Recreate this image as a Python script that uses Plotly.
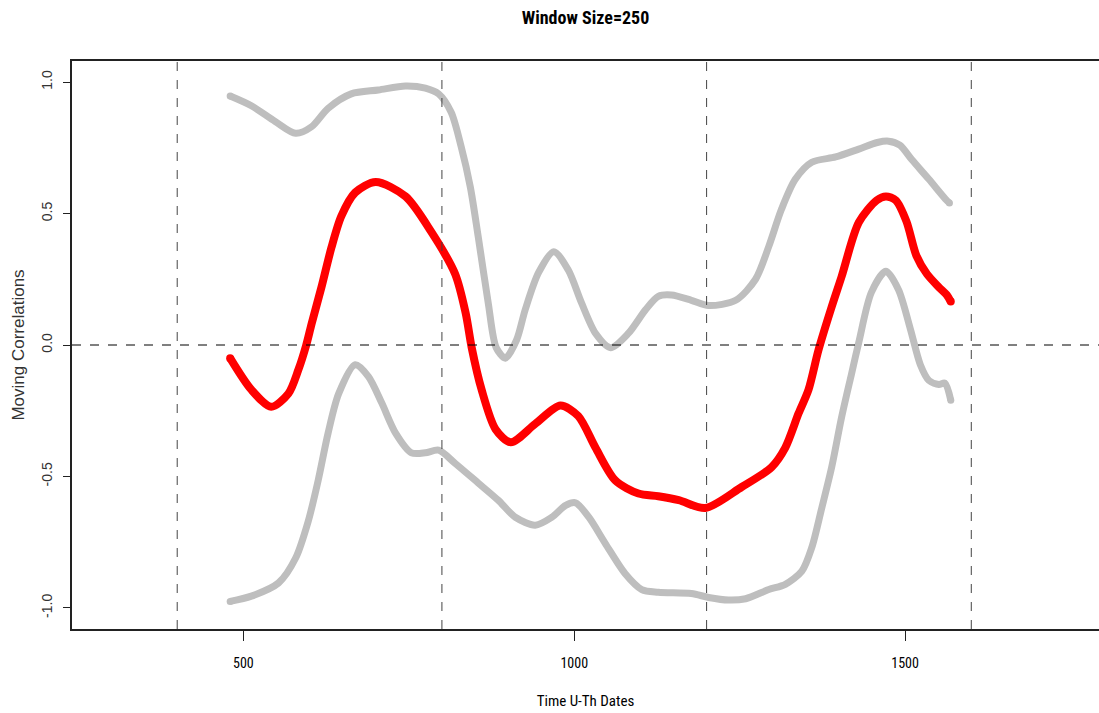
import plotly.graph_objects as go

# Moving correlation (window size 250) against U-Th dates
mid_x = [480, 512, 542, 568, 583, 595, 603, 618, 633, 648, 669, 700, 745, 784,
         820, 836, 845, 860, 881, 904, 941, 979, 1006, 1032, 1062, 1097,
         1127, 1158, 1198, 1253, 1298, 1319, 1339, 1354, 1369, 1389, 1404, 1430,
         1457, 1471, 1486, 1502, 1517, 1533, 1551, 1563, 1569]
mid_y = [-0.05, -0.17, -0.235, -0.185, -0.095, 0.0, 0.08, 0.22, 0.37, 0.49, 0.58,
         0.62, 0.565, 0.43, 0.27, 0.12, -0.01, -0.17, -0.32, -0.37, -0.30,
         -0.23, -0.27, -0.39, -0.515, -0.565, -0.575, -0.59, -0.62, -0.54, -0.465,
         -0.39, -0.26, -0.17, -0.02, 0.145, 0.26, 0.466, 0.55, 0.565, 0.55, 0.47,
         0.34, 0.27, 0.22, 0.19, 0.165]

# Upper confidence bound
up_x = [480, 512, 548, 579, 603, 628, 663, 704, 745, 775, 795, 814, 829, 843,
        855, 870, 882, 896, 913, 926, 946, 969, 991, 1011, 1032, 1055, 1082, 1108,
        1127, 1147, 1177, 1203, 1244, 1274, 1294, 1313, 1334, 1359, 1395, 1430,
        1458, 1475, 1492, 1510, 1536, 1561, 1567]
up_y = [0.947, 0.91, 0.85, 0.805, 0.83, 0.90, 0.955, 0.97, 0.985, 0.977, 0.955,
        0.885, 0.755, 0.60, 0.41, 0.16, -0.01, -0.05, 0.02, 0.135, 0.275, 0.355,
        0.285, 0.16, 0.045, -0.01, 0.045, 0.135, 0.185, 0.19, 0.17, 0.15, 0.17,
        0.25, 0.375, 0.515, 0.63, 0.695, 0.715, 0.745, 0.77, 0.775, 0.76,
        0.705, 0.63, 0.555, 0.54]

# Lower confidence bound
lo_x = [480, 512, 553, 579, 598, 613, 628, 644, 669, 689, 709, 730, 754, 775,
        795, 820, 855, 885, 911, 941, 966, 987, 1002, 1022, 1047, 1077, 1102,
        1127, 1177, 1203, 1233, 1259, 1294, 1319, 1344, 1359, 1374, 1389, 1404,
        1419, 1430, 1449, 1471, 1490, 1508, 1523, 1536, 1551, 1560, 1569]
lo_y = [-0.975, -0.955, -0.905, -0.81, -0.67, -0.515, -0.335, -0.185, -0.075,
        -0.12, -0.22, -0.335, -0.41, -0.41, -0.40, -0.45, -0.525, -0.59, -0.655,
        -0.685, -0.655, -0.61, -0.60, -0.655, -0.755, -0.87, -0.93, -0.94,
        -0.945, -0.96, -0.97, -0.965, -0.93, -0.91, -0.86, -0.77, -0.62, -0.465,
        -0.275, -0.11, 0.01, 0.20, 0.28, 0.21, 0.06, -0.075, -0.135, -0.15,
        -0.145, -0.21]

breaks = [400, 800, 1200, 1600]
x_ticks = [500, 1000, 1500]
y_ticks = [-1.0, -0.5, 0.0, 0.5, 1.0]

GRAY = "#BEBEBE"
RED = "#FF0000"
NARROW = "Liberation Sans Narrow, Arial Narrow, Roboto Condensed, Liberation Sans, Arial, sans-serif"
SANS = "Liberation Sans, Arial, sans-serif"

fig = go.Figure()


def band(xs, ys, color, width, end_size):
    fig.add_trace(go.Scatter(
        x=xs, y=ys, mode="lines",
        line=dict(color=color, width=width, shape="spline", smoothing=0.8),
        hoverinfo="skip", showlegend=False))
    fig.add_trace(go.Scatter(
        x=[xs[0], xs[-1]], y=[ys[0], ys[-1]], mode="markers",
        marker=dict(color=color, size=end_size, line=dict(width=0)),
        hoverinfo="skip", showlegend=False))


band(up_x, up_y, GRAY, 7, 7)
band(lo_x, lo_y, GRAY, 7, 7)
band(mid_x, mid_y, RED, 8, 8)

# Period boundaries and zero reference
for b in breaks:
    fig.add_shape(type="line", xref="x", yref="paper", x0=b, x1=b, y0=0, y1=1,
                  line=dict(color="#444444", width=1, dash="dash"), layer="above")
fig.add_shape(type="line", xref="paper", yref="y", x0=0, x1=1, y0=0, y1=0,
              line=dict(color="#000000", width=1, dash="dash"), layer="above")

fig.update_layout(
    width=1099, height=713,
    margin=dict(l=72, r=0, t=61, b=84),
    paper_bgcolor="white", plot_bgcolor="white",
    title=dict(text="<b>Window Size=250</b>", x=0.5, xref="paper", xanchor="center",
               y=0.975, yref="container", yanchor="middle",
               font=dict(family=NARROW, size=18, color="#000000")),
    xaxis=dict(
        range=[241, 1793], tickmode="array", tickvals=x_ticks,
        ticktext=[str(v) for v in x_ticks],
        showgrid=False, zeroline=False,
        showline=True, linecolor="#222222", linewidth=1.5, mirror=True,
        ticks="outside", ticklen=10, tickwidth=1, tickcolor="#222222",
        ticklabelstandoff=10,
        tickfont=dict(family=NARROW, size=14, color="#000000"),
        title=dict(text="Time U-Th Dates", standoff=26,
                   font=dict(family=NARROW, size=15, color="#000000")),
    ),
    yaxis=dict(
        range=[-1.08, 1.08], tickmode="array", tickvals=y_ticks,
        ticktext=["-1.0", "-0.5", "0.0", "0.5", "1.0"],
        showgrid=False, zeroline=False,
        showline=True, linecolor="#222222", linewidth=1.5, mirror=False,
        ticks="outside", ticklen=7, tickwidth=1, tickcolor="#222222",
        tickangle=-90, ticklabelstandoff=6,
        tickfont=dict(family=SANS, size=14, color="#333333"),
        title=dict(text="Moving Correlations", standoff=10,
                   font=dict(family=SANS, size=17, color="#333333")),
    ),
)

fig.write_html("out.html")
